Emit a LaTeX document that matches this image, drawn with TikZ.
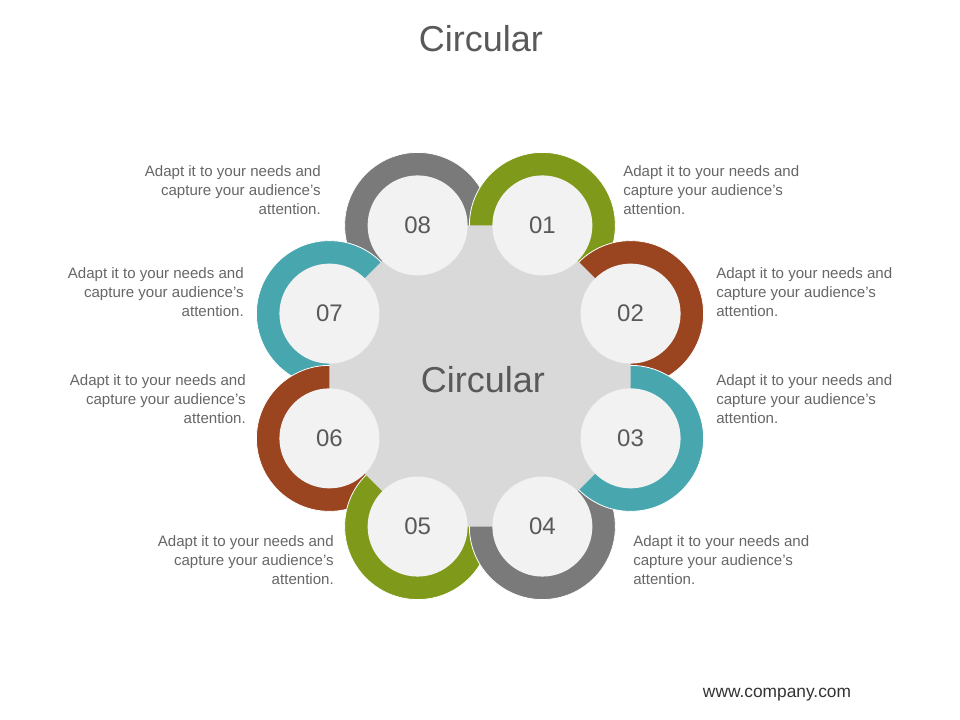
\documentclass[tikz,border=0pt]{standalone}
\usepackage{fontspec}
\setmainfont{Liberation Sans}
\usetikzlibrary{calc}
\definecolor{ringgreen}{HTML}{7F9A1A}
\definecolor{ringbrown}{HTML}{9A4420}
\definecolor{ringteal}{HTML}{48A6AF}
\definecolor{ringgray}{HTML}{7A7A7A}
\definecolor{hubfill}{HTML}{D9D9D9}
\definecolor{discfill}{HTML}{F2F2F2}
\definecolor{txtgray}{HTML}{666666}
\definecolor{numgray}{HTML}{595959}
\tikzset{
  note/.style={text=txtgray,font=\fontsize{11.3}{14.3}\selectfont,inner sep=0pt},
  disc/.style={circle,fill=discfill,minimum size=75pt,inner sep=0pt,
    text=numgray,font=\fontsize{18}{20}\selectfont},
}
\begin{document}
\begin{tikzpicture}[x=0.75pt,y=0.75pt]
\useasboundingbox (0,0) rectangle (960,720);
\coordinate (hub) at (480,344);
\foreach \i/\a in {1/67.5,2/22.5,3/-22.5,4/-67.5,5/-112.5,6/-157.5,7/157.5,8/112.5}{
  \coordinate (c\i) at ($(hub)+(\a:163)$);
}
% coloured rings, lowest first
\foreach \i/\c in {8/ringgray,7/ringteal,6/ringbrown,5/ringgreen,4/ringgray,1/ringgreen,2/ringbrown,3/ringteal}{
  \fill[\c,draw=white,line width=0.6pt] (c\i) circle[radius=73];
}
% grey hub through the centres
\fill[hubfill] (c1) -- (c2) -- (c3) -- (c4) -- (c5) -- (c6) -- (c7) -- (c8) -- cycle;
\foreach \i in {1,...,8}{
  \node[disc] (n\i) at (c\i) {0\i};
}
\node[text=numgray,font=\fontsize{27}{30}\selectfont] (hubtext) at (483,340) {Circular};
\node[text=numgray,font=\fontsize{27}{30}\selectfont] (title) at (481,681) {Circular};
% notes
\node[note,anchor=north east,align=right] (t8) at (321,555) {Adapt it to your needs and\\capture your audience's\\attention.};
\node[note,anchor=north west,align=left] (t1) at (623,555) {Adapt it to your needs and\\capture your audience's\\attention.};
\node[note,anchor=north west,align=left] (t2) at (716,453) {Adapt it to your needs and\\capture your audience's\\attention.};
\node[note,anchor=north west,align=left] (t3) at (716,346) {Adapt it to your needs and\\capture your audience's\\attention.};
\node[note,anchor=north west,align=left] (t4) at (633,185) {Adapt it to your needs and\\capture your audience's\\attention.};
\node[note,anchor=north east,align=right] (t5) at (334,185) {Adapt it to your needs and\\capture your audience's\\attention.};
\node[note,anchor=north east,align=right] (t6) at (246,346) {Adapt it to your needs and\\capture your audience's\\attention.};
\node[note,anchor=north east,align=right] (t7) at (244,453) {Adapt it to your needs and\\capture your audience's\\attention.};
\node[text=black!80,font=\fontsize{13}{15}\selectfont] (web) at (777,25) {www.company.com};
\end{tikzpicture}
\end{document}
